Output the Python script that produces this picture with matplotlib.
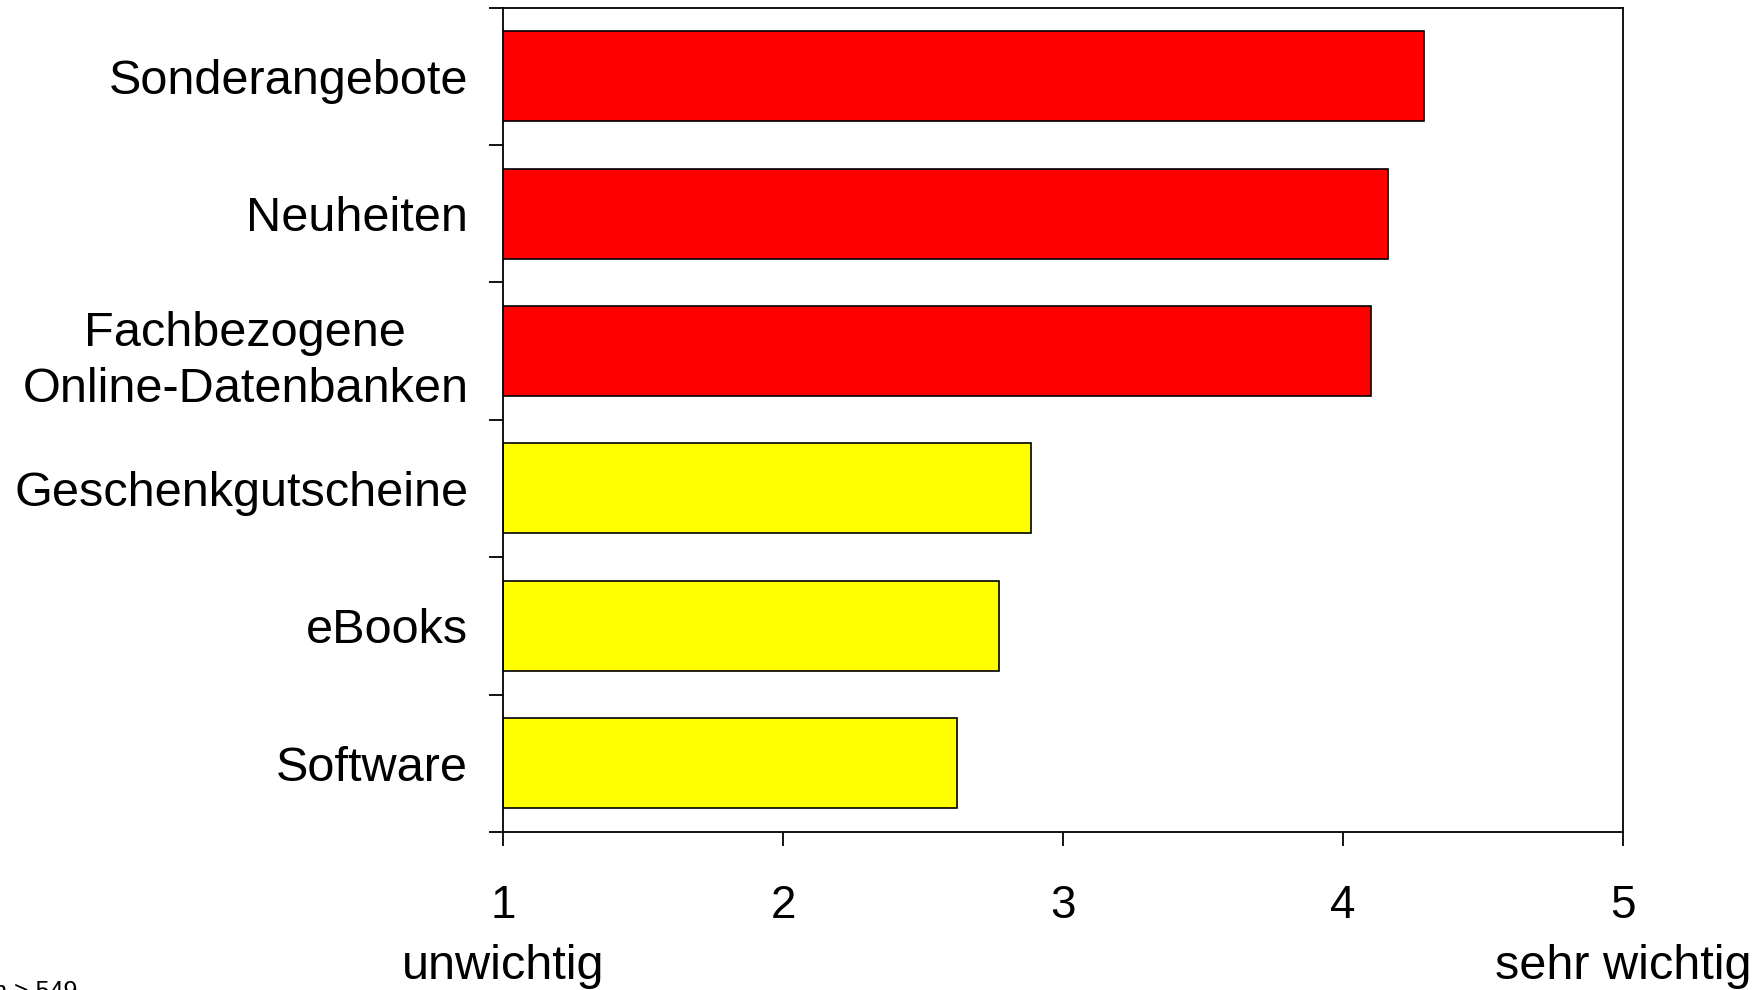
import matplotlib
matplotlib.use("Agg")
import matplotlib.pyplot as plt
import matplotlib.transforms as mtransforms
import numpy as np

plt.rcParams['font.family'] = ['Liberation Sans', 'DejaVu Sans']

categories = ["Sonderangebote", "Neuheiten", "Fachbezogene\nOnline-Datenbanken",
              "Geschenkgutscheine", "eBooks", "Software"]
values = [4.29, 4.16, 4.10, 2.885, 2.77, 2.62]
colors = ["#FF0000", "#FF0000", "#FF0000", "#FFFF00", "#FFFF00", "#FFFF00"]
xticks = [1, 2, 3, 4, 5]
xtick_labels = ["1", "2", "3", "4", "5"]
scale_low = "unwichtig"
scale_high = "sehr wichtig"
note = "n > 549"

fig = plt.figure(figsize=(17.6, 9.9), dpi=100)
ax = fig.add_axes([503/1760, 1 - 832/990, (1623-503)/1760, (832-7.5)/990])

y = np.arange(len(categories))
base = 1
ax.barh(y, [v - base for v in values], left=base, height=0.655, color=colors,
        edgecolor="black", linewidth=1.2, zorder=2)

ax.set_xlim(1, 5)
ax.set_ylim(len(categories) - 0.5, -0.5)

ax.set_xticks(xticks)
ax.set_xticklabels(xtick_labels, fontsize=33)
ax.tick_params(axis='x', direction='out', length=10, width=1.3, pad=27.5)

ax.set_yticks(y)
ax.set_yticklabels(categories, fontsize=35, multialignment='center', linespacing=1.32)
ax.tick_params(axis='y', which='major', length=0, pad=25)
ax.set_yticks(np.arange(-0.5, len(categories), 1.0), minor=True)
ax.tick_params(axis='y', which='minor', direction='out', length=10, width=1.3)

for s in ax.spines.values():
    s.set_linewidth(1.3)
    s.set_color("black")

trans = mtransforms.blended_transform_factory(ax.transData, fig.transFigure)
ax.text(1, 0.011, scale_low, transform=trans, ha='center', va='baseline',
        fontsize=35, clip_on=False)
ax.text(5, 0.011, scale_high, transform=trans, ha='center', va='baseline',
        fontsize=35, clip_on=False)

fig.text(-0.004, 0.0101, note, ha='left', va='top', fontsize=18)

fig.savefig("out.png", dpi=100)
